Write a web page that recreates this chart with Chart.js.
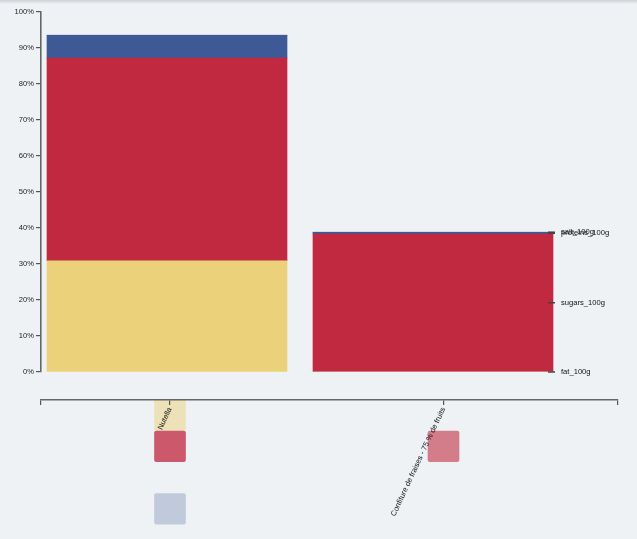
<!DOCTYPE html>
<html><head><meta charset="utf-8">
<script src="https://cdn.jsdelivr.net/npm/chart.js@4"></script>
<style>
html,body{margin:0;padding:0;background:#eff2f5;overflow:hidden;}
#wrap{position:relative;width:637px;height:539px;}
#shade{position:absolute;left:0;top:0;width:637px;height:4px;background:linear-gradient(rgba(200,204,208,0.9),rgba(239,242,245,0));}
canvas{display:block;}
</style></head><body>
<div id="wrap"><canvas id="c" width="637" height="539"></canvas><div id="shade"></div></div>
<script>
// ---- data ----
const categories = ['Nutella', 'Confiture de fraises - 75 % de fruits'];
const nutrients = ['fat_100g', 'sugars_100g', 'salt_100g', 'proteins_100g'];
const fat = [30.9, 0];
const sugars = [56.3, 38.3];
const proteins = [6.3, 0.5];
const salt = [0.107, 0.05];
const yTicks = [0, 10, 20, 30, 40, 50, 60, 70, 80, 90, 100];

// ---- styles ----
const FONT = '"Liberation Sans", Arial, sans-serif';
Chart.defaults.font.family = FONT;
const series = [
  { key: 'fat_100g', values: fat, color: [236, 209, 123] },
  { key: 'sugars_100g', values: sugars, color: [192, 41, 64] },
  { key: 'proteins_100g', values: proteins, color: [62, 90, 150] },
  { key: 'salt_100g', values: salt, color: [150, 150, 150] }
];
const rgba = (c, a) => `rgba(${c[0]},${c[1]},${c[2]},${a})`;
const cellAlpha = v => v >= 1 ? Math.min(1, 0.2 + v / 100) : 0;

const barDatasets = series.map(s => ({
  type: 'bar',
  label: s.key,
  xAxisID: 'x', yAxisID: 'y',
  data: categories.map((c, i) => ({ x: i, y: s.values[i] })),
  backgroundColor: rgba(s.color, 1),
  borderWidth: 0,
  barThickness: 240,
  grouped: false,
  stack: 'n'
}));

const cellPoints = [], cellColors = [];
categories.forEach((c, i) => {
  series.forEach(s => {
    const r = nutrients.indexOf(s.key);
    cellPoints.push({ x: i, y: [r - 0.49, r + 0.49] });
    cellColors.push(rgba(s.color, cellAlpha(s.values[i])));
  });
});
const cellDataset = {
  type: 'bar',
  label: 'cells',
  xAxisID: 'x2', yAxisID: 'yr',
  data: cellPoints,
  backgroundColor: cellColors,
  borderWidth: 0,
  borderRadius: 2,
  borderSkipped: false,
  barThickness: 31,
  grouped: false,
  clip: false
};

const sideLabels = {
  id: 'sideLabels',
  afterDatasetsDraw(chart) {
    const ctx = chart.ctx;
    const last = categories.length - 1;
    ctx.save();
    ctx.font = '7.6px ' + FONT;
    ctx.textBaseline = 'middle';
    ctx.fillStyle = '#111';
    ctx.strokeStyle = '#444';
    ctx.lineWidth = 1.5;
    chart.data.datasets.forEach((ds, di) => {
      if (ds.xAxisID !== 'x') return;
      const el = chart.getDatasetMeta(di).data[last];
      const right = el.x + el.width / 2;
      const mid = (el.y + el.base) / 2;
      ctx.beginPath(); ctx.moveTo(right - 5, mid); ctx.lineTo(right + 2, mid); ctx.stroke();
      ctx.fillText(ds.label, right + 8, mid);
    });
    ctx.restore();
  }
};

new Chart(document.getElementById('c'), {
  type: 'bar',
  data: { datasets: [...barDatasets, cellDataset] },
  options: {
    responsive: false,
    animation: false,
    events: [],
    layout: { padding: { left: 0, right: 19, top: 12, bottom: 0 } },
    plugins: { legend: { display: false }, tooltip: { enabled: false } },
    scales: {
      x: {
        type: 'linear', min: -0.4737, max: 1.6955, stacked: true, offset: false,
        position: 'bottom',
        grid: { display: false, offset: false }, border: { display: false },
        ticks: { display: false },
        afterFit(s) { s.height = 28; }
      },
      x2: {
        type: 'linear', min: -0.4717, max: 1.638, offset: false,
        position: 'bottom',
        afterBuildTicks(s) {
          s.ticks = [{ value: s.min }, ...categories.map((c, i) => ({ value: i })), { value: s.max }];
        },
        afterFit(s) { s.height = 139; },
        ticks: {
          z: 1,
          autoSkip: false, minRotation: 65, maxRotation: 65, padding: 1,
          color: '#111', font: { size: 7.6 },
          callback: v => Number.isInteger(v) ? categories[v] : ''
        },
        grid: { z: 1, drawOnChartArea: false, offset: false, tickLength: 5, color: '#555', lineWidth: 1.2 },
        border: { z: 1, color: '#666', width: 1.5 }
      },
      y: {
        type: 'linear', min: 0, max: 100, stacked: true, position: 'left',
        afterBuildTicks(s) { s.ticks = yTicks.map(v => ({ value: v })); },
        afterFit(s) { s.width = 41; },
        ticks: { color: '#222', padding: 2, font: { size: 7.6 }, callback: v => v + '%' },
        grid: { drawOnChartArea: false, tickLength: 5, color: '#555', lineWidth: 1.2 },
        border: { color: '#666', width: 1.6 }
      },
      yr: {
        type: 'linear', display: false, reverse: true, min: -12.875, max: -1.374
      }
    }
  },
  plugins: [sideLabels]
});
</script>
</body></html>
